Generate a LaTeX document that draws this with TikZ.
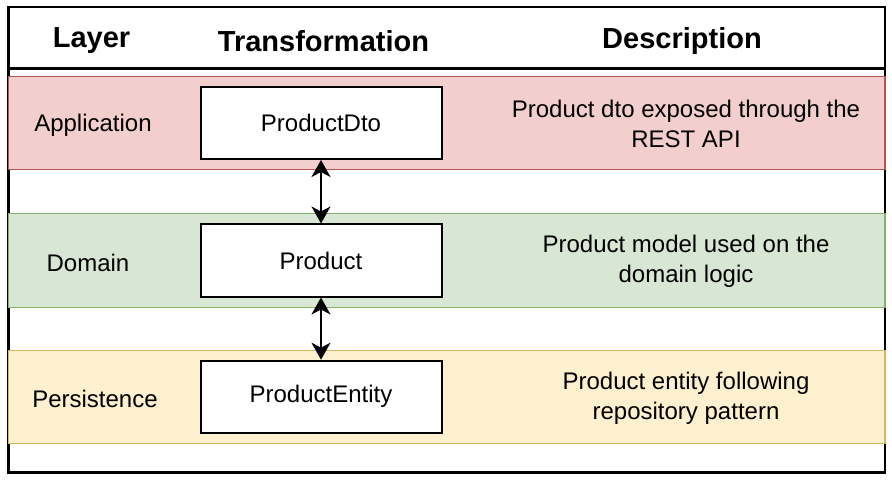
\documentclass[tikz,border=0pt]{standalone}
\usepackage{fontspec}
\setmainfont{Liberation Sans}
\usetikzlibrary{arrows.meta}
\definecolor{appfill}{HTML}{F2CFCC}
\definecolor{appline}{HTML}{B85450}
\definecolor{domfill}{HTML}{D8E6D4}
\definecolor{domline}{HTML}{82B366}
\definecolor{perfill}{HTML}{FCF0CF}
\definecolor{perline}{HTML}{D6B656}
\begin{document}
\begin{tikzpicture}[x=0.5pt,y=-0.5pt]
                \useasboundingbox (0,0) rectangle (892,480);
                % table frame and layer bands
                \draw[line width=1.25pt] (8.5,7) rectangle (885,472.5);
                \draw[line width=1.25pt] (8.5,68.5) -- (885,68.5);
                \draw[draw=appline,fill=appfill,line width=0.75pt] (8.5,76.5) rectangle (885,169.5);
                \draw[draw=domline,fill=domfill,line width=0.75pt] (8.5,213.5) rectangle (885,307.5);
                \draw[draw=perline,fill=perfill,line width=0.75pt] (8.5,350.5) rectangle (885,443.5);

                \begin{scope}[every node/.style={font=\fontsize{14.5}{17}\selectfont\bfseries}]
                    \node (Layer) at (91.5,41) {Layer};
                    \node (Trans) at (323.5,41) {Transformation};
                    \node (Desc) at (682,41) {Description};
                \end{scope}

                \begin{scope}[every node/.style={font=\fontsize{12}{15}\selectfont,align=center}]
                    \node (App) at (93,125) {Application};
                    \node (Dom) at (88,263) {Domain};
                    \node (Per) at (95,399) {Persistence};
                    \node (AppD) at (686,124) {Product dto exposed through the\\REST API};
                    \node (DomD) at (686,261) {Product model used on the\\domain logic};
                    \node (PerD) at (686,398.5) {Product entity following\\repository pattern};
                \end{scope}

                \begin{scope}[every node/.style={draw,fill=white,line width=1pt,minimum width=120.5pt,
                            minimum height=36pt,font=\fontsize{12}{15}\selectfont}]
                    \node (Dto) at (321,123) {ProductDto};
                    \node (Prod) at (321,260.5) {Product};
                    \node (Entity) at (321,396.7) {ProductEntity};
                \end{scope}

                \begin{scope}[every edge/.style={draw,line width=1pt}]
                    \path [{Stealth[length=8.5pt,width=9.5pt,inset=2.5pt]}-{Stealth[length=8.5pt,width=9.5pt,inset=2.5pt]}] (Dto) edge (Prod);
                    \path [{Stealth[length=8.5pt,width=9.5pt,inset=2.5pt]}-{Stealth[length=8.5pt,width=9.5pt,inset=2.5pt]}] (Prod) edge (Entity);
                \end{scope}
            \end{tikzpicture}
\end{document}
